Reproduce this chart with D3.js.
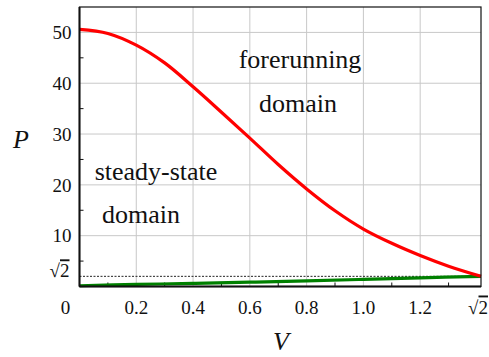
<!DOCTYPE html>
<html lang="en">
<head>
    <meta charset="UTF-8">
    <title>Forerunning domain</title>
    <script src="https://d3js.org/d3.v7.min.js"></script>
    <style>
        body { margin: 0; background: #fff; }
        .grid line { stroke: #c8c8c8; stroke-width: 1; }
    </style>
</head>
<body>
    <div id="chart"></div>
    <script>
        // values
        const SQ2 = Math.SQRT2;
        const redV = [0, 0.1, 0.2, 0.3, 0.4, 0.5, 0.6, 0.7, 0.8, 0.9, 1.0, 1.1, 1.2, 1.3, SQ2];
        const redP = [50.6, 49.8, 47.5, 44.0, 39.3, 34.3, 29.2, 24.0, 19.2, 14.9, 11.3, 8.5, 6.1, 4.0, 2.0];
        const greenV = [0, 0.2, 0.4, 0.6, 0.8, 1.0, 1.2, SQ2];
        const greenP = [0.15, 0.4, 0.62, 0.85, 1.1, 1.4, 1.7, 2.0];
        const thresholdP = 2;

        const xTicks = [0.2, 0.4, 0.6, 0.8, 1.0, 1.2];
        const xTickLabels = ["0.2", "0.4", "0.6", "0.8", "1.0", "1.2"];
        const xMinor = [0.1, 0.3, 0.5, 0.7, 0.9, 1.1, 1.3];
        const yTicks = [10, 20, 30, 40, 50];
        const yMinor = [5, 15, 25, 35, 45];

        const W = 489, H = 357;
        const margin = {top: 7, right: 8, bottom: 70.5, left: 79.5};
        const width = W - margin.left - margin.right,
              height = H - margin.top - margin.bottom;
        const serif = "'Liberation Serif', 'DejaVu Serif', 'Noto Serif', 'Times New Roman', serif";

        const svg = d3.select("#chart").append("svg")
            .attr("width", W).attr("height", H)
            .attr("font-family", serif);
        const g = svg.append("g")
            .attr("transform", "translate(" + margin.left + "," + margin.top + ")");

        const x = d3.scaleLinear().domain([0, SQ2]).range([0, width]);
        const y = d3.scaleLinear().domain([0, 55]).range([height, 0]);

        // grid
        const grid = g.append("g").attr("class", "grid");
        grid.selectAll(".gx").data(xTicks).join("line")
            .attr("x1", d => x(d)).attr("x2", d => x(d))
            .attr("y1", 0).attr("y2", height);
        grid.selectAll(".gy").data(yTicks).join("line")
            .attr("y1", d => y(d)).attr("y2", d => y(d))
            .attr("x1", 0).attr("x2", width);

        // minor ticks, pointing inward
        g.selectAll(".my").data(yMinor).join("line")
            .attr("x1", 0).attr("x2", 4)
            .attr("y1", d => y(d)).attr("y2", d => y(d))
            .attr("stroke", "#111");
        g.selectAll(".mx").data(xMinor).join("line")
            .attr("y1", height).attr("y2", height - 4)
            .attr("x1", d => x(d)).attr("x2", d => x(d))
            .attr("stroke", "#111");

        // dotted threshold
        g.append("line")
            .attr("x1", 0).attr("x2", width)
            .attr("y1", y(thresholdP)).attr("y2", y(thresholdP))
            .attr("stroke", "#222").attr("stroke-width", 1)
            .attr("stroke-dasharray", "2,1.5");

        const line = d3.line()
            .x(d => x(d[0])).y(d => y(d[1]))
            .curve(d3.curveCatmullRom);

        g.append("path")
            .datum(greenV.map((v, i) => [v, greenP[i]]))
            .attr("fill", "none").attr("stroke", "#008000")
            .attr("stroke-width", 3.2)
            .attr("d", line);

        g.append("path")
            .datum(redV.map((v, i) => [v, redP[i]]))
            .attr("fill", "none").attr("stroke", "#ff0000")
            .attr("stroke-width", 3.2)
            .attr("d", line);

        // frame
        g.append("rect")
            .attr("width", width).attr("height", height)
            .attr("fill", "none").attr("stroke", "#111").attr("stroke-width", 1.2);
        g.append("line").attr("x1", 0).attr("x2", 0).attr("y1", 0).attr("y2", height)
            .attr("stroke", "#111").attr("stroke-width", 2);
        g.append("line").attr("x1", 0).attr("x2", width).attr("y1", height).attr("y2", height)
            .attr("stroke", "#111").attr("stroke-width", 2);

        // tick labels
        const fs = 19;
        g.selectAll(".ylab").data(yTicks).join("text")
            .attr("x", -8).attr("y", d => y(d)).attr("dy", "0.35em")
            .attr("text-anchor", "end").attr("font-size", fs).attr("fill", "#111")
            .text(d => d);
        g.selectAll(".xlab").data(xTicks).join("text")
            .attr("x", d => x(d)).attr("y", height + 27)
            .attr("text-anchor", "middle").attr("font-size", fs).attr("fill", "#111")
            .text((d, i) => xTickLabels[i]);
        g.append("text")
            .attr("x", x(0) - 14).attr("y", height + 27)
            .attr("text-anchor", "middle").attr("font-size", fs).attr("fill", "#111").text("0");

        // sqrt 2 labels
        function sqrt2(sel) {
            sel.append("tspan").text("\u221A");
            sel.append("tspan").attr("text-decoration", "overline").text("2");
        }
        g.append("text")
            .attr("x", -10).attr("y", y(thresholdP) + 1)
            .attr("text-anchor", "end").attr("font-size", fs).attr("fill", "#111")
            .call(sqrt2);
        g.append("text")
            .attr("x", x(SQ2) + 7).attr("y", height + 27)
            .attr("text-anchor", "end").attr("font-size", fs).attr("fill", "#111")
            .call(sqrt2);

        // axis titles
        svg.append("text").attr("x", 21).attr("y", 148)
            .attr("text-anchor", "middle").attr("font-size", 26).attr("fill", "#111")
            .attr("font-style", "italic").text("P");
        svg.append("text").attr("x", 281).attr("y", 350)
            .attr("text-anchor", "middle").attr("font-size", 26).attr("fill", "#111")
            .attr("font-style", "italic").text("V");

        // region labels
        const rfs = 26;
        const regions = [
            {t: "forerunning", cx: 300, by: 68},
            {t: "domain", cx: 298, by: 112},
            {t: "steady-state", cx: 156, by: 180},
            {t: "domain", cx: 141, by: 223}
        ];
        svg.selectAll(".reg").data(regions).join("text")
            .attr("x", d => d.cx).attr("y", d => d.by)
            .attr("text-anchor", "middle").attr("font-size", rfs).attr("fill", "#111")
            .text(d => d.t);
    </script>
</body>
</html>
